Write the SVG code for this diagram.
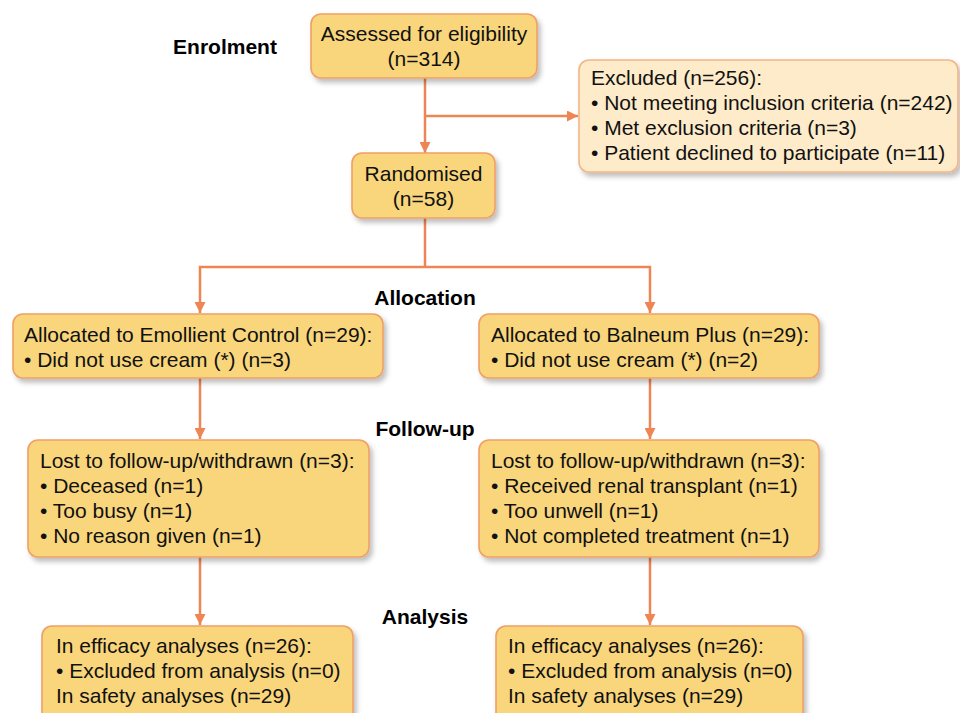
<svg xmlns="http://www.w3.org/2000/svg" width="960" height="713" viewBox="0 0 960 713">
<defs>
<filter id="sh" x="-10%" y="-10%" width="130%" height="140%">
<feDropShadow dx="3" dy="4" stdDeviation="2.5" flood-color="#000" flood-opacity="0.25"/>
</filter>
<marker id="ah" viewBox="0 0 10 10" refX="10" refY="5" markerWidth="4.4" markerHeight="4.4" orient="auto" markerUnits="strokeWidth">
<path d="M0,0 L10,5 L0,10 Z" fill="#EE8555"/>
</marker>
</defs>
<style>
.box{fill:#F9D67B;stroke:#EFA066;stroke-width:1.6;filter:url(#sh)}
.exc{fill:#FDEBC9;stroke:#F3B587;stroke-width:1.6;filter:url(#sh)}
.t{font-family:"Liberation Sans",Arial,sans-serif;font-size:21px;fill:#111}
.h{font-family:"Liberation Sans",Arial,sans-serif;font-size:21px;font-weight:bold;fill:#000;text-anchor:middle}
.c{text-anchor:middle}
.ln{fill:none;stroke:#EE8555;stroke-width:2.5}
.ar{marker-end:url(#ah)}
</style>
<rect width="960" height="713" fill="#fff"/>
<g id="labels">
<text class="h" x="225" y="54">Enrolment</text>
<text class="h" x="425" y="305">Allocation</text>
<text class="h" x="425" y="436">Follow-up</text>
<text class="h" x="425" y="624">Analysis</text>
</g>
<g id="connectors">
<line class="ln ar" x1="425" y1="78" x2="425" y2="153"/>
<line class="ln ar" x1="425" y1="116" x2="578" y2="116"/>
<polyline class="ln" points="425,218 425,267"/>
<polyline class="ln ar" points="425,267 200,267 200,313"/>
<polyline class="ln ar" points="425,267 650,267 650,313"/>
<line class="ln ar" x1="200" y1="378" x2="200" y2="439"/>
<line class="ln ar" x1="650" y1="378" x2="650" y2="439"/>
<line class="ln ar" x1="200" y1="557" x2="200" y2="625"/>
<line class="ln ar" x1="650" y1="557" x2="650" y2="625"/>
</g>
<g id="assessed">
<rect class="box" x="311" y="14" width="226" height="64" rx="10"/>
<text class="t c" x="424" y="41">Assessed for eligibility</text>
<text class="t c" x="424" y="66">(n=314)</text>
</g>
<g id="excluded">
<rect class="exc" x="579" y="60" width="379" height="112" rx="10"/>
<text class="t" x="591" y="85">Excluded (n=256):</text>
<text class="t" x="591" y="110">• Not meeting inclusion criteria (n=242)</text>
<text class="t" x="591" y="135">• Met exclusion criteria (n=3)</text>
<text class="t" x="591" y="160">• Patient declined to participate (n=11)</text>
</g>
<g id="randomised">
<rect class="box" x="352" y="153" width="143" height="65" rx="10"/>
<text class="t c" x="423.5" y="181">Randomised</text>
<text class="t c" x="423.5" y="206">(n=58)</text>
</g>
<g id="alloc-control">
<rect class="box" x="13" y="314" width="370" height="64" rx="10"/>
<text class="t" x="24" y="342">Allocated to Emollient Control (n=29):</text>
<text class="t" x="24" y="367">• Did not use cream (*) (n=3)</text>
</g>
<g id="alloc-balneum">
<rect class="box" x="479" y="314" width="340" height="64" rx="10"/>
<text class="t" x="491" y="342">Allocated to Balneum Plus (n=29):</text>
<text class="t" x="491" y="367">• Did not use cream (*) (n=2)</text>
</g>
<g id="lost-control">
<rect class="box" x="28" y="440" width="341" height="117" rx="10"/>
<text class="t" x="40" y="468">Lost to follow-up/withdrawn (n=3):</text>
<text class="t" x="40" y="493">• Deceased (n=1)</text>
<text class="t" x="40" y="518">• Too busy (n=1)</text>
<text class="t" x="40" y="543">• No reason given (n=1)</text>
</g>
<g id="lost-balneum">
<rect class="box" x="479" y="440" width="340" height="117" rx="10"/>
<text class="t" x="491" y="468">Lost to follow-up/withdrawn (n=3):</text>
<text class="t" x="491" y="493">• Received renal transplant (n=1)</text>
<text class="t" x="491" y="518">• Too unwell (n=1)</text>
<text class="t" x="491" y="543">• Not completed treatment (n=1)</text>
</g>
<g id="analysis-control">
<rect class="box" x="42" y="626" width="311" height="100" rx="10"/>
<text class="t" x="56" y="653">In efficacy analyses (n=26):</text>
<text class="t" x="56" y="678">• Excluded from analysis (n=0)</text>
<text class="t" x="56" y="703">In safety analyses (n=29)</text>
</g>
<g id="analysis-balneum">
<rect class="box" x="496" y="626" width="307" height="100" rx="10"/>
<text class="t" x="508" y="653">In efficacy analyses (n=26):</text>
<text class="t" x="508" y="678">• Excluded from analysis (n=0)</text>
<text class="t" x="508" y="703">In safety analyses (n=29)</text>
</g>
</svg>
